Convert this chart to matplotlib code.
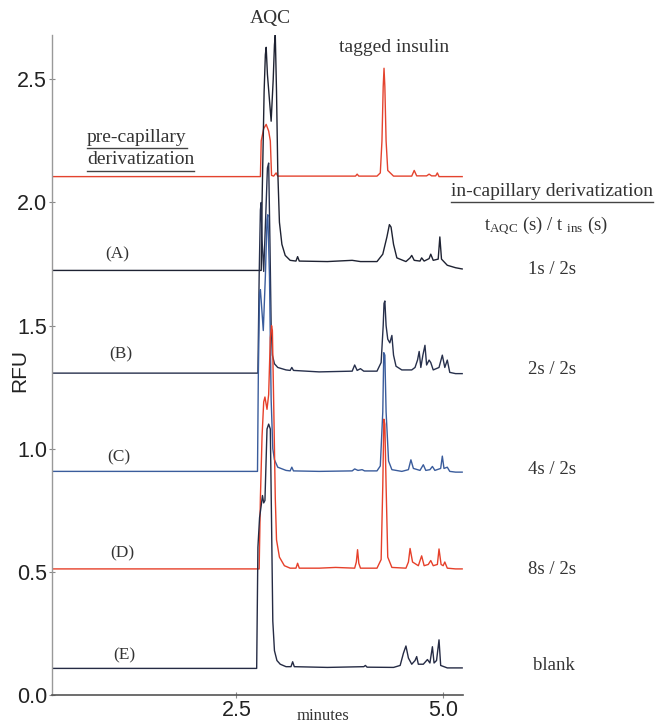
import matplotlib
matplotlib.use("Agg")
import matplotlib.pyplot as plt
from matplotlib.lines import Line2D

plt.rcParams['mathtext.fontset'] = 'custom'
plt.rcParams['mathtext.rm'] = 'Liberation Serif'
plt.rcParams['mathtext.it'] = 'Liberation Serif:italic'

# traces (minutes, RFU)
pre_x = [0.27, 2.79, 2.80, 2.83, 2.86, 2.89, 2.91, 2.925, 2.95, 2.98, 3.00, 3.5,
         3.94, 3.96, 3.98, 4.2, 4.24, 4.26, 4.275, 4.285, 4.295, 4.31, 4.33, 4.4,
         4.62, 4.65, 4.68, 4.8, 4.83, 4.86, 4.91, 4.93, 4.95, 5.23]
pre_y = [2.105, 2.105, 2.25, 2.30, 2.317, 2.29, 2.25, 2.11, 2.107, 2.12, 2.107, 2.107,
         2.107, 2.115, 2.107, 2.107, 2.12, 2.25, 2.47, 2.545, 2.47, 2.25, 2.13, 2.107,
         2.107, 2.13, 2.108, 2.108, 2.115, 2.108, 2.108, 2.12, 2.105, 2.105]

a_x = [0.27, 2.80, 2.81, 2.835, 2.85, 2.86, 2.875, 2.92, 2.945, 2.96, 2.97, 2.985,
       3.0, 3.02, 3.05, 3.09, 3.15, 3.22, 3.24, 3.26, 3.6, 3.9, 4.0, 4.2, 4.27, 4.32,
       4.35, 4.37, 4.40, 4.44, 4.55, 4.60, 4.62, 4.65, 4.72, 4.74, 4.77, 4.83, 4.85,
       4.88, 4.94, 4.96, 4.98, 5.05, 5.15, 5.23]
a_y = [1.724, 1.724, 2.0, 2.45, 2.60, 2.63, 2.52, 2.33, 2.50, 2.64, 2.68, 2.45,
       2.13, 1.92, 1.83, 1.785, 1.765, 1.762, 1.78, 1.762, 1.76, 1.765, 1.76, 1.76, 1.79, 1.86,
       1.91, 1.90, 1.83, 1.775, 1.76, 1.775, 1.785, 1.765, 1.762, 1.775, 1.762, 1.772, 1.79,
       1.765, 1.77, 1.86, 1.77, 1.745, 1.735, 1.73]

b_x = [0.27, 2.76, 2.775, 2.79, 2.80, 2.81, 2.83, 2.855, 2.875, 2.89, 2.905, 2.92,
       2.935, 2.96, 3.0, 3.1, 3.15, 3.17, 3.19, 3.5, 3.9, 3.93, 3.96, 4.0, 4.04, 4.2,
       4.25, 4.275, 4.285, 4.295, 4.31, 4.33, 4.355, 4.38, 4.40, 4.43, 4.5, 4.62,
       4.66, 4.69, 4.71, 4.73, 4.755, 4.78, 4.80, 4.83, 4.85, 4.88, 4.95, 4.99, 5.02,
       5.05, 5.08, 5.15, 5.23]
b_y = [1.307, 1.307, 1.70, 1.97, 2.00, 1.85, 1.72, 1.95, 2.14, 2.16, 1.85, 1.50,
       1.38, 1.345, 1.33, 1.32, 1.318, 1.33, 1.318, 1.312, 1.315, 1.34, 1.318, 1.325, 1.315, 1.315,
       1.35, 1.50, 1.59, 1.60, 1.50, 1.445, 1.43, 1.46, 1.38, 1.335, 1.32, 1.32,
       1.33, 1.36, 1.395, 1.33, 1.38, 1.42, 1.34, 1.36, 1.35, 1.32, 1.33, 1.38, 1.33,
       1.36, 1.31, 1.305, 1.305]

c_x = [0.27, 2.755, 2.765, 2.78, 2.79, 2.80, 2.825, 2.85, 2.87, 2.88, 2.90, 2.92,
       2.94, 2.96, 3.0, 3.1, 3.15, 3.17, 3.19, 3.5, 3.9, 3.93, 3.97, 4.02, 4.05, 4.2,
       4.24, 4.27, 4.282, 4.295, 4.31, 4.34, 4.38, 4.5, 4.58, 4.61, 4.64, 4.72, 4.76,
       4.79, 4.84, 4.87, 4.9, 4.97, 4.99, 5.01, 5.05, 5.08, 5.15, 5.23]
c_y = [0.908, 0.908, 1.30, 1.63, 1.646, 1.60, 1.48, 1.70, 1.93, 1.95, 1.70, 1.20,
       1.00, 0.955, 0.925, 0.912, 0.91, 0.925, 0.91, 0.908, 0.91, 0.918, 0.912, 0.915, 0.91, 0.91,
       0.93, 1.15, 1.39, 1.38, 1.15, 0.95, 0.915, 0.908, 0.915, 0.955, 0.92, 0.912, 0.935,
       0.912, 0.915, 0.928, 0.912, 0.92, 0.97, 0.92, 0.925, 0.908, 0.905, 0.905]

d_x = [0.27, 2.775, 2.79, 2.81, 2.83, 2.845, 2.87, 2.89, 2.91, 2.925, 2.935, 2.95,
       2.97, 2.985, 3.02, 3.08, 3.15, 3.22, 3.24, 3.26, 3.5, 3.7, 3.93, 3.95, 3.965,
       3.98, 4.0, 4.2, 4.25, 4.27, 4.283, 4.295, 4.31, 4.33, 4.38, 4.55, 4.58, 4.60,
       4.63, 4.70, 4.74, 4.77, 4.82, 4.85, 4.88, 4.93, 4.95, 4.975, 5.0, 5.02, 5.05,
       5.15, 5.23]
d_y = [0.512, 0.512, 0.80, 1.05, 1.19, 1.21, 1.16, 1.22, 1.45, 1.50, 1.48, 1.20,
       0.80, 0.63, 0.56, 0.525, 0.515, 0.515, 0.535, 0.515, 0.515, 0.518, 0.515, 0.54, 0.59,
       0.535, 0.515, 0.515, 0.55, 0.85, 1.12, 1.10, 0.85, 0.56, 0.518, 0.515, 0.54, 0.595,
       0.54, 0.525, 0.565, 0.525, 0.53, 0.546, 0.525, 0.53, 0.593, 0.53, 0.525, 0.54, 0.515,
       0.512, 0.512]

e_x = [0.27, 2.745, 2.76, 2.78, 2.80, 2.815, 2.83, 2.845, 2.87, 2.89, 2.91, 2.925,
       2.94, 2.96, 2.99, 3.03, 3.1, 3.16, 3.18, 3.20, 3.6, 4.04, 4.06, 4.08, 4.4,
       4.48, 4.52, 4.55, 4.58, 4.62, 4.66, 4.68, 4.70, 4.76, 4.81, 4.84, 4.87, 4.89,
       4.92, 4.95, 4.97, 5.05, 5.23]
e_y = [0.108, 0.108, 0.60, 0.72, 0.77, 0.81, 0.78, 0.79, 1.08, 1.10, 1.08, 0.70,
       0.30, 0.18, 0.14, 0.125, 0.115, 0.115, 0.135, 0.115, 0.112, 0.115, 0.12, 0.113, 0.112,
       0.12, 0.17, 0.199, 0.15, 0.125, 0.14, 0.156, 0.125, 0.125, 0.144, 0.13, 0.196, 0.13,
       0.14, 0.224, 0.12, 0.11, 0.11]

trace_names = ['(A)', '(B)', '(C)', '(D)', '(E)']
time_labels = ['1s / 2s', '2s / 2s', '4s / 2s', '8s / 2s', 'blank']
y_ticks = [0.0, 0.5, 1.0, 1.5, 2.0, 2.5]
x_ticks = [2.5, 5.0]

W, H = 655, 725
red = '#e4432e'
colors = ['#1e2232', '#27304c', '#3a5c9c', '#e6402a', '#252b44']
serif = 'Liberation Serif'
sans = 'Liberation Sans'


def fxy(px, py):
    return px / W, 1 - py / H


def underline(fig, t, pad=2):
    fig.canvas.draw()
    bb = t.get_window_extent()
    inv = fig.transFigure.inverted()
    (x0, y0), (x1, _) = inv.transform([(bb.x0, bb.y0 - pad), (bb.x1, bb.y0)])
    fig.add_artist(Line2D([x0, x1], [y0, y0], color='#444444', lw=1.0))


fig = plt.figure(figsize=(W / 100, H / 100), dpi=100)
ax = fig.add_axes([52 / W, 30 / H, 411 / W, 660 / H])

ax.plot(pre_x, pre_y, color=red, lw=1.0)
traces = [(a_x, a_y), (b_x, b_y), (c_x, c_y), (d_x, d_y), (e_x, e_y)]
for (xs, ys), c in zip(traces, colors):
    ax.plot(xs, ys, color=c, lw=1.0)

ax.set_xlim(0.27, 5.24)
ax.set_ylim(0, 2.68)
ax.set_xticks(x_ticks)
ax.set_yticks(y_ticks)
ax.set_xticklabels([f'{v:.1f}' for v in x_ticks], fontsize=15.5, family=sans, color='#222222')
ax.set_yticklabels([f'{v:.1f}' for v in y_ticks], fontsize=15.5, family=sans, color='#222222')
ax.tick_params(axis='both', direction='inout', length=5, width=0.8, color='#888888', pad=1)
for s in ['top', 'right']:
    ax.spines[s].set_visible(False)
ax.spines['left'].set_color('#999999')
ax.spines['bottom'].set_color('#555555')
ax.spines['left'].set_linewidth(1.0)
ax.spines['bottom'].set_linewidth(1.2)

fig.text(*fxy(20, 370), 'RFU', rotation=90, ha='center', va='center',
         fontsize=15, family=sans, color='#222222')
fig.text(*fxy(323, 716), 'minutes', ha='center', va='center', fontsize=12,
         family=serif, color='#333333')

tkw = dict(family=serif, color='#333333')
fig.text(*fxy(270, 18), 'AQC', ha='center', va='center', fontsize=14, **tkw)
fig.text(*fxy(394, 47), 'tagged insulin', ha='center', va='center', fontsize=14, **tkw)
t1 = fig.text(*fxy(87, 137), 'pre-capillary', ha='left', va='center', fontsize=14, **tkw)
t2 = fig.text(*fxy(87, 160), 'derivatization', ha='left', va='center', fontsize=14, **tkw)
t3 = fig.text(*fxy(653, 191), 'in-capillary derivatization', ha='right', va='center',
              fontsize=14, **tkw)
fig.text(*fxy(546, 226), r't$_{\mathrm{AQC}}$ (s) / t $_{\mathrm{ins}}$ (s)', ha='center',
         va='center', fontsize=13.5, **tkw)

name_pos = [(117, 254), (121, 354), (119, 457), (122, 553), (124, 655)]
label_pos = [(552, 269), (552, 369), (552, 470), (552, 569), (554, 665)]
for name, (px, py) in zip(trace_names, name_pos):
    fig.text(*fxy(px, py), name, ha='center', va='center', fontsize=12.5, **tkw)
for lab, (px, py) in zip(time_labels, label_pos):
    fig.text(*fxy(px, py), lab, ha='center', va='center', fontsize=13.5, **tkw)

for t in (t1, t2, t3):
    underline(fig, t)

fig.savefig('out.png', dpi=100)
